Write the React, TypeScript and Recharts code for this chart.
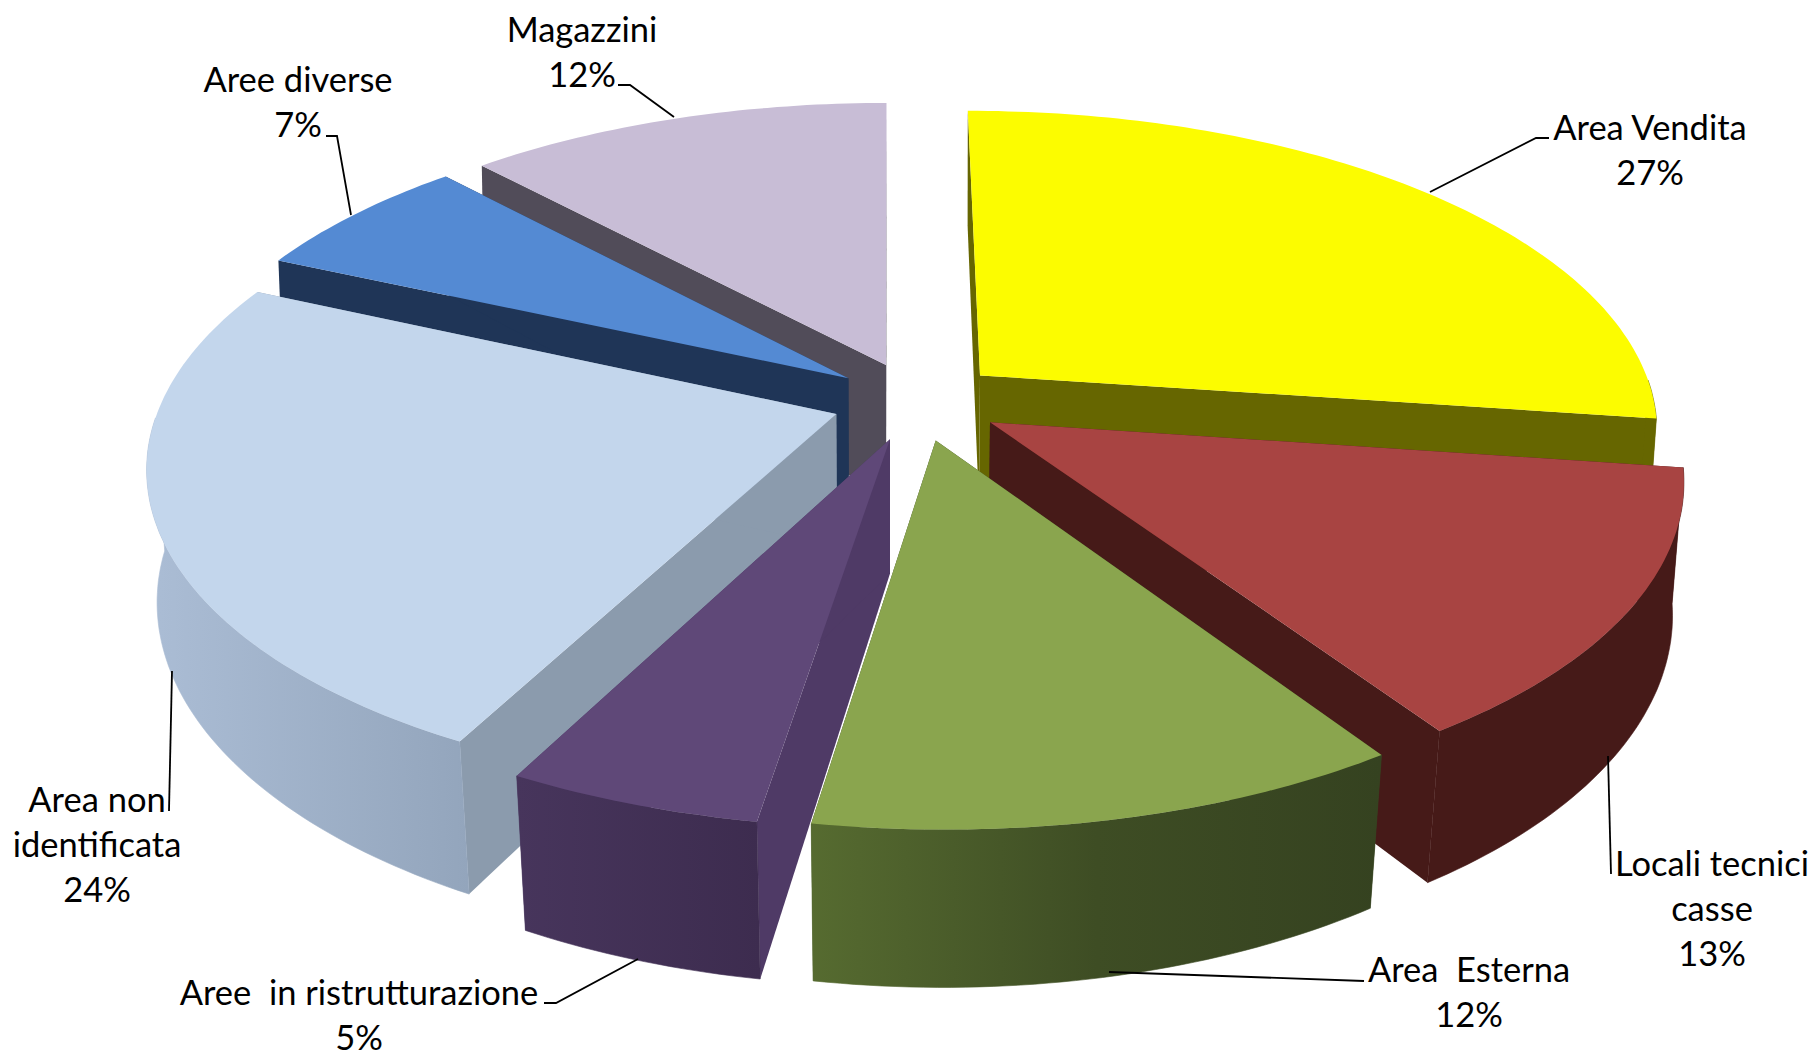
import React from 'react';
import { PieChart, Pie } from 'recharts';

// slice names in clockwise order, starting from 12 o'clock
const NAMES = [
  'Area Vendita',
  'Locali tecnici casse',
  'Area Esterna',
  'Aree in ristrutturazione',
  'Area non identificata',
  'Aree diverse',
  'Magazzini',
];
// slice shares as measured on the drawing, the printed percentages are in PERCENT_LABELS
const VALUES = [27.2, 13.5, 11.9, 5.1, 24, 6.4, 11.9];
const PERCENT_LABELS = ['27%', '13%', '12%', '5%', '24%', '7%', '12%'];
const NAME_LINES = [
  ['Area Vendita'],
  ['Locali tecnici', 'casse'],
  ['Area  Esterna'],
  ['Aree  in ristrutturazione'],
  ['Area non', 'identificata'],
  ['Aree diverse'],
  ['Magazzini'],
];

const TOP_COLORS = ['#FCFC00', '#A84442', '#8AA54E', '#5F4878', '#C3D6EC', '#548AD3', '#C8BDD6'];
const OUTER_WALL = ['#666600', '#461A18', 'url(#wallGreen)', 'url(#wallPurple)', 'url(#wallBlue)', '#1F3557', '#514C59'];
const INNER_WALL = ['#666600', '#461A18', '#3A4722', '#4F3A66', '#8B9BAD', '#1F3557', '#514C59'];

// back to front, so nearer slices cover the walls of the ones behind
const DRAW_ORDER = [6, 5, 0, 4, 1, 3, 2];

// where each label's first line sits, and its leader line
const LABEL_BOX = [
  { x: 1650, y: 126 },
  { x: 1712, y: 862 },
  { x: 1469, y: 968 },
  { x: 359, y: 991 },
  { x: 97, y: 798 },
  { x: 298, y: 78 },
  { x: 582, y: 28 },
];
const LEADERS = [
  '1549,138 1536,138 1430,192',
  '1611,874 1608,756',
  '1364,981 1109,972',
  '544,1003 556,1003 638,959',
  '169,811 172,671',
  '326,136 337,136 351,215',
  '618,85 630,85 674,117',
];

const WIDTH = 1814;
const HEIGHT = 1055;
const VANISH_X = 890;
const SQUASH = 0.465;
const PERSPECTIVE = 0.158;
const EXPLODE = 0.126;

const rows = NAMES.map((name, i) => ({ name, value: VALUES[i], order: i }));

type Pt = [number, number];

const project = (u: number, v: number, cx: number, cy: number, r: number): Pt => {
  const s = 1 / (1 - PERSPECTIVE * v);
  return [VANISH_X + (cx - VANISH_X + r * u) * s, cy + r * SQUASH * v * s];
};

// same point on the underside of the pie
const drop = ([x, y]: Pt): Pt => [VANISH_X + (1 - 0.00003 * y) * (x - VANISH_X), y + 108 + 0.06 * y];

const toPath = (pts: Pt[]) => 'M' + pts.map((p) => p[0].toFixed(1) + ',' + p[1].toFixed(1)).join('L') + 'Z';

const Slice3D = (props: any) => {
  const { cx, cy, outerRadius, startAngle, endAngle, payload } = props;
  const from = ((90 - Math.max(startAngle, endAngle)) * Math.PI) / 180;
  const to = ((90 - Math.min(startAngle, endAngle)) * Math.PI) / 180;
  const mid = (from + to) / 2;
  const du = EXPLODE * Math.sin(mid);
  const dv = -EXPLODE * Math.cos(mid);
  const i = payload.order;

  const apex = project(du, dv, cx, cy, outerRadius);
  const arc: Pt[] = [];
  const front: Pt[] = []; // the part of the rim that faces the viewer
  const steps = Math.ceil(((to - from) * 180) / Math.PI);
  for (let k = 0; k <= steps; k++) {
    const a = from + ((to - from) * k) / steps;
    const pt = project(du + Math.sin(a), dv - Math.cos(a), cx, cy, outerRadius);
    arc.push(pt);
    if (Math.cos(a) < 0) front.push(pt);
  }
  const first = arc[0];
  const last = arc[arc.length - 1];

  return (
    <g>
      <path d={toPath([apex, first, drop(first), drop(apex)])} fill={INNER_WALL[i]} />
      <path d={toPath([apex, last, drop(last), drop(apex)])} fill={INNER_WALL[i]} />
      {front.length > 1 && (
        <path d={toPath([...front, ...front.map(drop).reverse()])} fill={OUTER_WALL[i]} stroke={OUTER_WALL[i]} strokeWidth={0.6} />
      )}
      <path d={toPath([apex, ...arc])} fill={TOP_COLORS[i]} />
    </g>
  );
};

const renderLabel = (props: any) => {
  const i = props.payload ? props.payload.order : props.index;
  const box = LABEL_BOX[i];
  const lines = [...NAME_LINES[i], PERCENT_LABELS[i]];
  return (
    <g key={NAMES[i]}>
      <polyline points={LEADERS[i]} fill="none" stroke="#000" strokeWidth={1.8} />
      {lines.map((line, k) => (
        <text
          key={k}
          x={box.x}
          y={box.y + k * 45}
          textAnchor="middle"
          dominantBaseline="central"
          fontFamily="Lato, sans-serif"
          fontSize={34.5}
          fill="#000"
          style={{ whiteSpace: 'pre' }}
        >
          {line}
        </text>
      ))}
    </g>
  );
};

export default function App() {
  return (
    <div style={{ position: 'absolute', left: 0, top: 0, width: WIDTH, height: HEIGHT, background: '#fff' }}>
      <PieChart width={WIDTH} height={HEIGHT} margin={{ top: 0, right: 0, bottom: 0, left: 0 }}>
        <defs>
          <linearGradient id="wallGreen" x1="0" y1="0" x2="1" y2="0">
            <stop offset="0%" stopColor="#566B30" />
            <stop offset="50%" stopColor="#3E4D24" />
            <stop offset="100%" stopColor="#354220" />
          </linearGradient>
          <linearGradient id="wallPurple" x1="0" y1="0" x2="1" y2="0">
            <stop offset="0%" stopColor="#47355C" />
            <stop offset="100%" stopColor="#3D2C4F" />
          </linearGradient>
          <linearGradient id="wallBlue" x1="0" y1="0" x2="1" y2="0">
            <stop offset="0%" stopColor="#ABBDD5" />
            <stop offset="100%" stopColor="#93A5BC" />
          </linearGradient>
        </defs>
        {DRAW_ORDER.map((slice, n) => (
          <Pie
            key={slice}
            data={rows}
            dataKey="value"
            nameKey="name"
            cx={917}
            cy={401}
            innerRadius={0}
            outerRadius={675}
            startAngle={90}
            endAngle={-270}
            isAnimationActive={false}
            shape={(p: any) => (p.payload.order === slice ? <Slice3D {...p} /> : <g />)}
            label={n === DRAW_ORDER.length - 1 ? renderLabel : false}
            labelLine={false}
          />
        ))}
      </PieChart>
    </div>
  );
}
